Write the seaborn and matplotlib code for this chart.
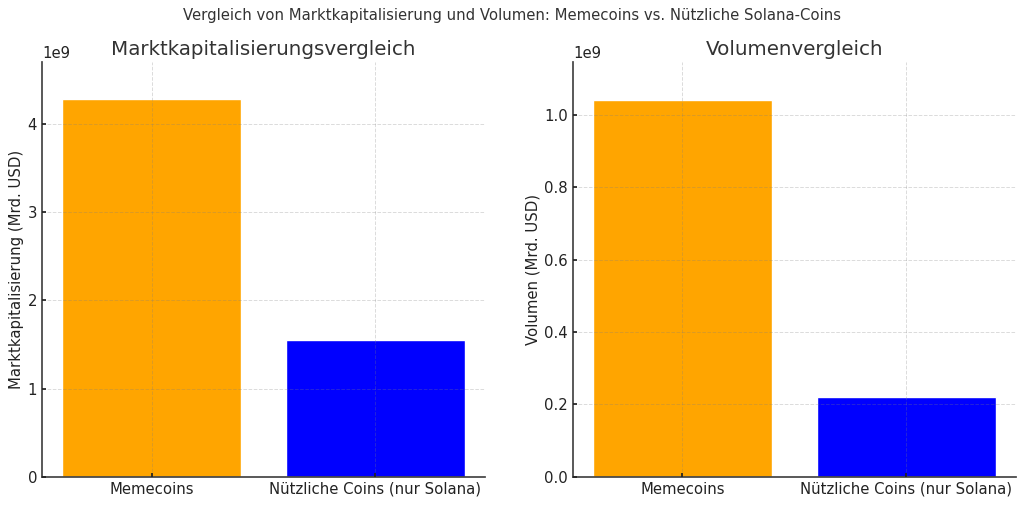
import pandas as pd
from matplotlib import pyplot as plt
import seaborn as sns

# Values
categories = ["Memecoins", "Nützliche Coins (nur Solana)"]
market_cap = [4.28e9, 1.55e9]
volume = [1.04e9, 0.22e9]
bar_colors = ["orange", "blue"]
cap_ticks = [0e9, 1e9, 2e9, 3e9, 4e9]
volume_ticks = [0e9, 0.2e9, 0.4e9, 0.6e9, 0.8e9, 1.0e9]

df = pd.DataFrame({"group": categories, "market_cap": market_cap, "volume": volume})

sns.set_theme(style="ticks")
plt.rcParams["font.family"] = ["DejaVu Sans"]
plt.rcParams["text.color"] = "#333333"

fig, axes = plt.subplots(1, 2, figsize=(10.24, 5.05), dpi=100)

panels = [
    ("market_cap", "Marktkapitalisierungsvergleich", "Marktkapitalisierung (Mrd. USD)", cap_ticks, 4.70e9),
    ("volume", "Volumenvergleich", "Volumen (Mrd. USD)", volume_ticks, 1.146e9),
]
for ax, (col, title, ylabel, yticks, ytop) in zip(axes, panels):
    sns.barplot(data=df, x="group", y=col, hue="group", palette=bar_colors,
                legend=False, width=0.8, saturation=1, ax=ax)
    ax.set_title(title, fontsize=14.3, color="#333333", pad=5)
    ax.set_xlabel("")
    ax.set_ylabel(ylabel, fontsize=10.75, color="#222222", labelpad=2.5)
    ax.set_xlim(-0.49, 1.49)
    ax.set_ylim(0, ytop)
    ax.set_yticks(yticks)
    ax.tick_params(labelsize=10.75, colors="#222222", length=3, direction="in", pad=3.5)
    ax.grid(True, linestyle="--", linewidth=0.7, color="gray", alpha=0.28)
    ax.set_axisbelow(False)
    ax.spines["top"].set_visible(False)
    ax.spines["right"].set_visible(False)
    ax.spines["left"].set_color("#444444")
    ax.spines["bottom"].set_color("#444444")
    ax.yaxis.get_offset_text().set_fontsize(10.75)

fig.suptitle("Vergleich von Marktkapitalisierung und Volumen: Memecoins vs. Nützliche Solana-Coins",
             fontsize=10.75, color="#333333", y=0.985)
fig.subplots_adjust(left=0.041, right=0.992, top=0.877, bottom=0.056, wspace=0.1986)

fig.savefig("out.png", dpi=100)
